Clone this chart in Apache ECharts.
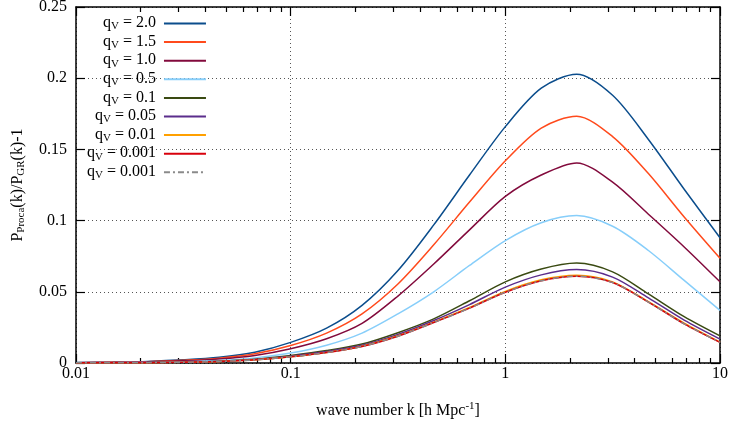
<!DOCTYPE html>
<html lang="en">
<head>
    <meta charset="UTF-8">
    <title>Proca power spectrum ratio</title>
    <style>
        html, body { margin: 0; padding: 0; background: #fff; }
    </style>
</head>
<body>
    <div id="box" style="width: 732px; height: 423px;"></div>
</body>
<script src="https://cdn.jsdelivr.net/npm/echarts@6/dist/echarts.min.js"></script>
<script>
    // wave numbers (h/Mpc), six per decade
    var kValues = [0.01, 0.0147, 0.0215, 0.0316, 0.0464, 0.0681, 0.1, 0.147, 0.215, 0.316, 0.464, 0.681, 1, 1.47, 2.15, 3.16, 4.64, 6.81, 10];

    // P_Proca/P_GR - 1 for each q_V
    var q2p0 = [0.0003, 0.0006, 0.0011, 0.0022, 0.0040, 0.0076, 0.0145, 0.0245, 0.0405, 0.065, 0.097, 0.132, 0.166, 0.193, 0.2028, 0.188, 0.157, 0.122, 0.088];
    var q1p5 = [0.00025, 0.0005, 0.0009, 0.0019, 0.0034, 0.0065, 0.0123, 0.021, 0.0345, 0.0555, 0.083, 0.113, 0.142, 0.165, 0.1733, 0.159, 0.133, 0.1025, 0.0735];
    var q1p0 = [0.0002, 0.0004, 0.0008, 0.0015, 0.0028, 0.0053, 0.0100, 0.017, 0.0278, 0.047, 0.0695, 0.0935, 0.117, 0.132, 0.1405, 0.127, 0.1045, 0.0815, 0.057];
    var q0p5 = [0.0001, 0.0002, 0.0004, 0.0009, 0.0018, 0.0036, 0.0070, 0.0125, 0.021, 0.0345, 0.050, 0.0685, 0.086, 0.0985, 0.1035, 0.096, 0.079, 0.058, 0.037];
    var q0p1 = [0.0001, 0.0002, 0.0003, 0.0006, 0.0012, 0.0026, 0.0053, 0.0087, 0.0133, 0.0213, 0.031, 0.0437, 0.057, 0.066, 0.0702, 0.064, 0.0485, 0.0325, 0.019];
    var q0p05 = [0.0001, 0.00017, 0.00028, 0.00055, 0.00115, 0.0024, 0.0048, 0.0080, 0.0124, 0.0200, 0.0298, 0.041, 0.0533, 0.0619, 0.0656, 0.0603, 0.0457, 0.0301, 0.0168];
    var q0p01 = [0.0001, 0.00016, 0.00026, 0.00052, 0.00112, 0.00225, 0.0044, 0.0074, 0.0118, 0.0191, 0.0287, 0.0390, 0.0503, 0.0584, 0.0616, 0.0570, 0.0430, 0.0280, 0.0147];
    var q0p001 = [0.0001, 0.00015, 0.00025, 0.0005, 0.0011, 0.0022, 0.0043, 0.0073, 0.0116, 0.0188, 0.0284, 0.0385, 0.0497, 0.0578, 0.0610, 0.0565, 0.0428, 0.0275, 0.0145];
    var q0p001b = [0.0001, 0.00015, 0.00025, 0.0005, 0.0011, 0.0022, 0.0043, 0.0073, 0.0116, 0.0188, 0.0284, 0.0385, 0.0497, 0.0578, 0.0610, 0.0565, 0.0428, 0.0275, 0.0145];

    var qLabels = ["2.0", "1.5", "1.0", "0.5", "0.1", "0.05", "0.01", "0.001", "0.001"];
    var curves = [q2p0, q1p5, q1p0, q0p5, q0p1, q0p05, q0p01, q0p001, q0p001b];
    var colorData = ["#0b4d8c", "#ff4a1c", "#820a3c", "#87cefa", "#3a4a12", "#5b2d8c", "#ffa000", "#d8000c", "#8a8a8a"];

    // tick positions
    var xMajorTicks = [0.01, 0.1, 1, 10];
    var xMinorTicks = [0.02, 0.03, 0.04, 0.05, 0.06, 0.07, 0.08, 0.09,
        0.2, 0.3, 0.4, 0.5, 0.6, 0.7, 0.8, 0.9,
        2, 3, 4, 5, 6, 7, 8, 9];

    var font = "Liberation Serif";
    var box = echarts.init(document.getElementById("box"));

    var series = [];
    var legendData = [];
    for (var i = 0; i < curves.length; i++) {
        var pts = [];
        for (var j = 0; j < kValues.length; j++) {
            pts.push([kValues[j], curves[i][j]]);
        }
        series.push({
            name: "s" + i,
            type: "line",
            smooth: 0.3,
            symbol: "none",
            data: pts,
            lineStyle: {
                color: colorData[i],
                width: 1.5,
                type: i == 8 ? [6, 3, 2, 3] : "solid"
            },
            itemStyle: { color: colorData[i] }
        });
        legendData.push("s" + i);
    }

    var gridDots = { show: true, lineStyle: { color: "#555", width: 1, type: [1, 3] } };
    var frameLine = { show: true, lineStyle: { color: "#000", width: 1.5 } };
    var tickLine = { color: "#000", width: 1.2 };

    var option = {
        animation: false,
        textStyle: { fontFamily: font },
        grid: { left: 76, right: 12, top: 7, bottom: 60, outerBoundsMode: "none", containLabel: false },
        legend: {
            orient: "vertical",
            left: 87,
            top: 15,
            padding: 0,
            align: "right",
            itemWidth: 42,
            itemHeight: 14,
            itemGap: 1.6,
            selectedMode: false,
            data: legendData,
            itemStyle: { opacity: 0, borderWidth: 0 },
            formatter: function (name) {
                var idx = parseInt(name.substring(1));
                return "{n|q}{s|V}{e| = " + qLabels[idx] + "}";
            },
            textStyle: {
                fontFamily: font,
                color: "#000",
                fontSize: 16,
                rich: {
                    n: { fontFamily: font, fontSize: 16, color: "#000", lineHeight: 17, verticalAlign: "top" },
                    e: { fontFamily: font, fontSize: 16, color: "#000", lineHeight: 17, verticalAlign: "top", padding: [0, 3, 0, 0] },
                    s: { fontFamily: font, fontSize: 11, color: "#000", lineHeight: 11, verticalAlign: "bottom" }
                }
            }
        },
        //x轴设置
        xAxis: [{
            type: "log",
            logBase: 10,
            min: 0.01,
            max: 10,
            position: "bottom",
            axisLine: frameLine,
            axisTick: { show: true, inside: true, length: 9, customValues: xMajorTicks, lineStyle: tickLine },
            axisLabel: { color: "#000", fontSize: 16, fontFamily: font, margin: 3, customValues: xMajorTicks, formatter: function (v) { return String(v); } },
            splitLine: gridDots,
            name: "{n|wave number k [h Mpc}{p|-1}{n|]}",
            nameLocation: "middle",
            nameGap: 38,
            nameTextStyle: {
                rich: {
                    n: { fontFamily: font, fontSize: 16, color: "#000", lineHeight: 18, verticalAlign: "bottom" },
                    p: { fontFamily: font, fontSize: 11, color: "#000", lineHeight: 11, verticalAlign: "top" }
                }
            }
        }, {
            type: "log", logBase: 10, min: 0.01, max: 10, position: "bottom",
            axisLine: { show: false },
            axisTick: { show: true, inside: true, length: 5, customValues: xMinorTicks, lineStyle: tickLine },
            axisLabel: { show: false },
            splitLine: { show: false }
        }, {
            type: "log", logBase: 10, min: 0.01, max: 10, position: "top",
            axisLine: frameLine,
            axisTick: { show: true, inside: true, length: 9, customValues: xMajorTicks, lineStyle: tickLine },
            axisLabel: { show: false },
            splitLine: { show: false }
        }, {
            type: "log", logBase: 10, min: 0.01, max: 10, position: "top",
            axisLine: { show: false },
            axisTick: { show: true, inside: true, length: 5, customValues: xMinorTicks, lineStyle: tickLine },
            axisLabel: { show: false },
            splitLine: { show: false }
        }],
        //y轴设置
        yAxis: [{
            type: "value",
            min: 0,
            max: 0.25,
            interval: 0.05,
            position: "left",
            axisLine: frameLine,
            axisTick: { show: true, inside: true, length: 9, lineStyle: tickLine },
            axisLabel: { color: "#000", fontSize: 16, fontFamily: font, margin: 9 },
            splitLine: gridDots,
            name: "{n|P}{s|Proca}{n|(k)/P}{s|GR}{n|(k)-1}",
            nameLocation: "middle",
            nameGap: 49,
            nameTextStyle: {
                rich: {
                    n: { fontFamily: font, fontSize: 16, color: "#000", lineHeight: 17, verticalAlign: "top" },
                    s: { fontFamily: font, fontSize: 11, color: "#000", lineHeight: 11, verticalAlign: "bottom" }
                }
            }
        }, {
            type: "value",
            min: 0,
            max: 0.25,
            interval: 0.05,
            position: "right",
            axisLine: frameLine,
            axisTick: { show: true, inside: true, length: 9, lineStyle: tickLine },
            axisLabel: { show: false },
            splitLine: { show: false }
        }],
        series: series
    };
    box.setOption(option);
</script>
</html>
